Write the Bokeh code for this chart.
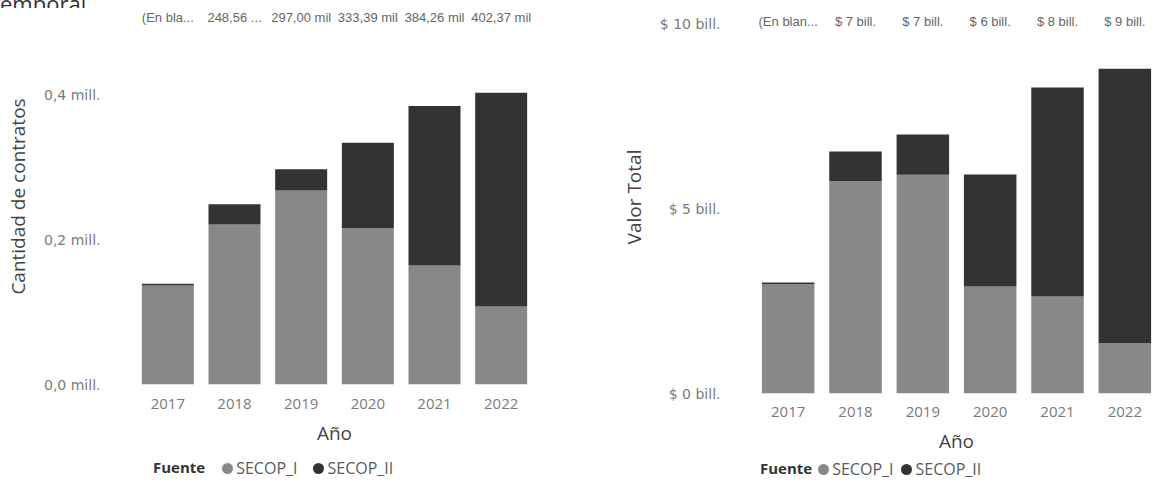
from bokeh.plotting import figure
from bokeh.models import ColumnDataSource, FactorRange, Range1d, FixedTicker, Div
from bokeh.layouts import row, column
from bokeh.embed import file_html
from bokeh.resources import INLINE
from bokeh.core.properties import value

# ---------------- data ----------------
years = ["2017", "2018", "2019", "2020", "2021", "2022"]
series = ["SECOP_I", "SECOP_II"]
series_colors = ["#888888", "#333333"]

# Cantidad de contratos (number of contracts)
contratos_secop_i = [136500, 220700, 267600, 216000, 164100, 107600]
contratos_secop_ii = [2500, 27860, 29400, 117390, 220160, 294770]
contratos_top_labels = ["(En bla...", "248,56 ...", "297,00 mil", "333,39 mil",
                        "384,26 mil", "402,37 mil"]
contratos_ticks = [0, 200000, 400000]
contratos_tick_labels = ["0,0 mill.", "0,2 mill.", "0,4 mill."]

# Valor total (billones de pesos)
valor_secop_i = [2.96, 5.74, 5.91, 2.89, 2.62, 1.36]
valor_secop_ii = [0.04, 0.80, 1.09, 3.03, 5.65, 7.42]
valor_top_labels = ["(En blan...", "$ 7 bill.", "$ 7 bill.", "$ 6 bill.",
                    "$ 8 bill.", "$ 9 bill."]
valor_ticks = [0, 5, 10]
valor_tick_labels = ["$ 0 bill.", "$ 5 bill.", "$ 10 bill."]

legend_title = "Fuente"
page_title_fragment = "emporal"


def make_chart(width, height, border_left, border_right, border_bottom, y_end,
               s1, s2, top_labels, ticks, tick_labels, y_title, top_offset,
               x_standoff):
    p = figure(width=width, height=height, output_backend="svg",
               toolbar_location=None, x_range=FactorRange(*years),
               y_range=Range1d(0, y_end),
               min_border_left=border_left, min_border_right=border_right,
               min_border_top=0, min_border_bottom=border_bottom)
    p.outline_line_color = None
    p.xgrid.visible = False
    p.ygrid.visible = False
    p.background_fill_color = "white"
    p.border_fill_color = "white"

    src = ColumnDataSource(dict(year=years, SECOP_I=s1, SECOP_II=s2,
                                label=top_labels,
                                ytop=[y_end] * len(years)))
    p.vbar_stack(series, x="year", width=0.78, color=series_colors,
                 line_color=None, source=src)

    p.text(x="year", y="ytop", text="label", source=src,
           y_offset=top_offset, text_align="center", text_baseline="middle",
           text_font=value("Liberation Sans"), text_font_size="13px",
           text_color="#666666")

    p.yaxis.ticker = FixedTicker(ticks=ticks)
    p.yaxis.major_label_overrides = {t: l for t, l in zip(ticks, tick_labels)}
    p.yaxis.axis_label = y_title
    for ax in (p.xaxis[0], p.yaxis[0]):
        ax.axis_line_color = None
        ax.major_tick_line_color = None
        ax.minor_tick_line_color = None
        ax.axis_label_text_font = "Open Sans"
        ax.axis_label_text_font_size = "19px"
        ax.axis_label_text_font_style = "normal"
        ax.axis_label_text_color = "#444444"
    p.yaxis.major_label_text_font = "DejaVu Sans"
    p.yaxis.major_label_text_font_size = "14px"
    p.yaxis.major_label_text_color = "#7a7a7a"
    p.yaxis.major_label_standoff = 28
    p.yaxis.axis_label_standoff = 10

    p.xaxis.axis_label = "Año"
    p.xaxis.major_label_text_font = "Open Sans"
    p.xaxis.major_label_text_font_size = "15px"
    p.xaxis.major_label_text_color = "#7a7a7a"
    p.xaxis.major_label_standoff = x_standoff
    p.xaxis.axis_label_standoff = 8
    return p


def legend_div(width, height, pad_left, pad_top, gap_first, gap_second):
    dot = ('<span style="display:inline-block;width:11px;height:11px;'
           'border-radius:50%;background:{c};margin-left:{m}px;'
           'margin-right:3px"></span>')
    parts = ['<div style="display:flex;align-items:center;height:20px;'
             f'padding-left:{pad_left}px;padding-top:{pad_top}px;'
             'font-family:\'Open Sans\';white-space:nowrap">',
             '<span style="font-size:15px;font-weight:bold;color:#333333">'
             f'{legend_title}</span>']
    for i, (s, c) in enumerate(zip(series, series_colors)):
        parts.append(dot.format(c=c, m=gap_first if i == 0 else gap_second))
        parts.append('<span style="font-size:16px;color:#5a5a5a">'
                     f'{s}</span>')
    parts.append('</div>')
    return Div(text="".join(parts), width=width, height=height,
               margin=0, styles={"overflow": "hidden"})


title_div = Div(text=('<div style="font-family:\'Open Sans\';font-size:22px;'
                      'line-height:22px;margin-top:-13px;color:#333333;'
                      f'white-space:nowrap">{page_title_fragment}</div>'),
                width=600, height=8, margin=0,
                styles={"overflow": "hidden"})

left = make_chart(width=600, height=448, border_left=134, border_right=66,
                  border_bottom=72, y_end=376 / 725 * 1e6,
                  s1=contratos_secop_i, s2=contratos_secop_ii,
                  top_labels=contratos_top_labels, ticks=contratos_ticks,
                  tick_labels=contratos_tick_labels,
                  y_title="Cantidad de contratos", top_offset=9,
                  x_standoff=8)

right = make_chart(width=562, height=456, border_left=154, border_right=4,
                   border_bottom=63, y_end=393 / 37,
                   s1=valor_secop_i, s2=valor_secop_ii,
                   top_labels=valor_top_labels, ticks=valor_ticks,
                   tick_labels=valor_tick_labels,
                   y_title="Valor Total", top_offset=21, x_standoff=7)

layout = row(column(title_div, left, legend_div(600, 30, 153, 4, 17, 16)),
             column(right, legend_div(562, 30, 160, 6, 6, 8)))
open("out.html", "w").write(file_html(layout, INLINE))
